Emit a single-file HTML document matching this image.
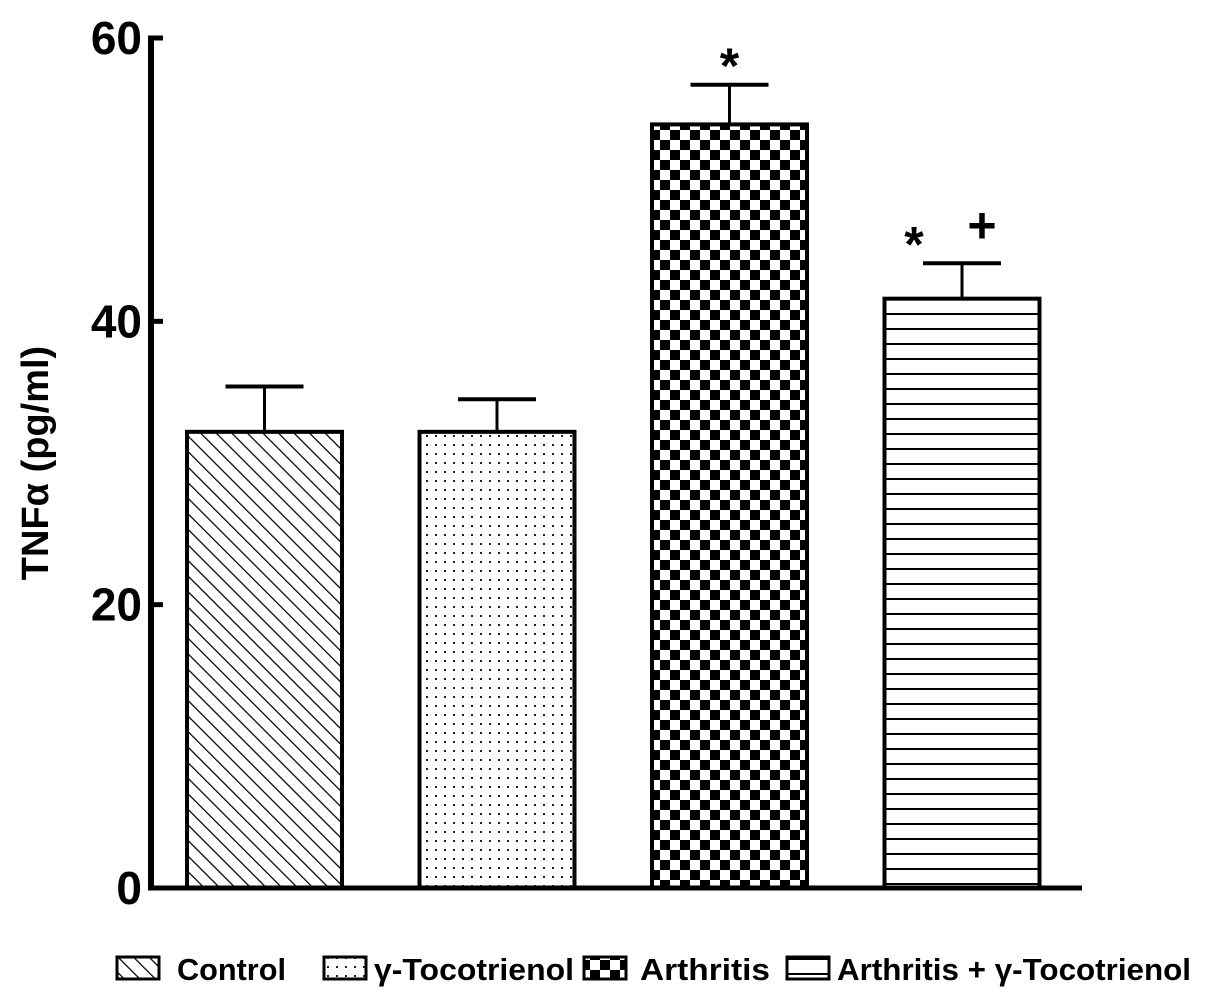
<!DOCTYPE html>
<html><head><meta charset="utf-8"><style>
html,body{margin:0;padding:0;background:#fff;}
svg{display:block;font-family:"Liberation Sans",sans-serif;}
</style></head><body>
<svg id="chart" width="1205" height="1004" viewBox="0 0 1205 1004" xmlns="http://www.w3.org/2000/svg">
<defs>
<pattern id="p-diag" patternUnits="userSpaceOnUse" width="11" height="11" patternTransform="rotate(-45)">
<rect width="11" height="11" fill="#fff"/><line x1="0" y1="0" x2="0" y2="11" stroke="#000" stroke-width="2.5"/></pattern>
<pattern id="p-dots" patternUnits="userSpaceOnUse" width="9" height="9">
<rect width="9" height="9" fill="#fff"/><rect x="3" y="3" width="2" height="2" fill="#222"/></pattern>
<pattern id="p-check" patternUnits="userSpaceOnUse" width="20" height="20">
<rect width="20" height="20" fill="#fff"/><rect width="10" height="10" fill="#000"/><rect x="10" y="10" width="10" height="10" fill="#000"/></pattern>
<pattern id="p-hlines" patternUnits="userSpaceOnUse" width="10" height="15">
<rect width="10" height="15" fill="#fff"/><rect y="13" width="10" height="2.5" fill="#000"/></pattern>
</defs>
<g id="plot"></g>
<text transform="translate(48,463) rotate(-90)" text-anchor="middle" font-size="38" font-weight="bold">TNFα (pg/ml)</text>
<g id="legend"></g>
</svg>
<script>
const categories = ["Control", "γ-Tocotrienol", "Arthritis", "Arthritis+γ-Tocotrienol"];
const values = [32.2, 32.2, 53.9, 41.6];
const errors = [3.2, 2.3, 2.8, 2.5];
const annotations = ["", "", "*", "*   +"];
const yTicks = [0, 20, 40, 60];
const fills = ["url(#p-diag)", "url(#p-dots)", "url(#p-check)", "url(#p-hlines)"];

const NS = "http://www.w3.org/2000/svg";
const y0 = 888, yTop = 38, yMax = 60;
function yScale(v){ return y0 - (v / yMax) * (y0 - yTop); }
const barLeft0 = 187, barStep = 232.5, barW = 155;
function xScale(i){ return barLeft0 + i * barStep; }
function mk(tag, attrs, parent){ const e = document.createElementNS(NS, tag); for (const k in attrs) e.setAttribute(k, attrs[k]); parent.appendChild(e); return e; }
const plot = document.getElementById("plot");

categories.forEach((c, i) => {
  const x = xScale(i), yv = yScale(values[i]), ye = yScale(values[i] + errors[i]);
  const cx = x + barW / 2;
  const eb = mk("line", {x1: cx, x2: cx, y1: ye, y2: yv, stroke: "#000", "stroke-width": 3}, plot);
  
  
  const cap = mk("line", {x1: cx - 39, x2: cx + 39, y1: ye, y2: ye, stroke: "#000", "stroke-width": 4}, plot);
  
  
  const r = mk("rect", {x: x, y: yv, width: barW, height: y0 - yv, fill: fills[i], stroke: "#000", "stroke-width": 4}, plot);
  
  
  if (annotations[i]) {
    const parts = annotations[i].split(/\s+/);
    const t = mk("text", {x: parts.length > 1 ? cx - 48 : cx, y: ye - 2, "font-size": 50, "font-weight": "bold", "text-anchor": "middle"}, plot);
    t.textContent = parts[0];
    
    
    if (parts.length > 1) {
      const t2 = mk("text", {x: cx + 20, y: ye - 21, "font-size": 50, "font-weight": "bold", "text-anchor": "middle"}, plot);
      t2.textContent = parts[1];
      
      
    }
  }
});

const ya = mk("line", {x1: 151, x2: 151, y1: yTop, y2: y0 + 2, stroke: "#000", "stroke-width": 6}, plot);


const xa = mk("line", {x1: 148, x2: 1082, y1: y0, y2: y0, stroke: "#000", "stroke-width": 5}, plot);


yTicks.forEach(v => {
  const y = yScale(v);
  const tk = mk("line", {x1: 148, x2: 163, y1: y, y2: y, stroke: "#000", "stroke-width": 5}, plot);
  
  
  const tl = mk("text", {x: 142, y: y + 16, "font-size": 46, "font-weight": "bold", "text-anchor": "end"}, plot);
  tl.textContent = v;
  
  
});

const legend = document.getElementById("legend");
const legX = [117, 324, 584, 787];
const legTextX = [177, 374, 640, 837];
const legTextW = [109, 200, 130, 354];
categories.forEach((c, i) => {
  const sw = mk("rect", {x: legX[i], y: 957, width: 42, height: 22, fill: fills[i], stroke: "#000", "stroke-width": 3}, legend);
  
  
  const t = mk("text", {x: legTextX[i], y: 980, "font-size": 31, "font-weight": "bold", textLength: legTextW[i], lengthAdjust: "spacingAndGlyphs"}, legend);
  t.textContent = c.replace("+", " + ");
  
  
});
</script>
</body></html>
